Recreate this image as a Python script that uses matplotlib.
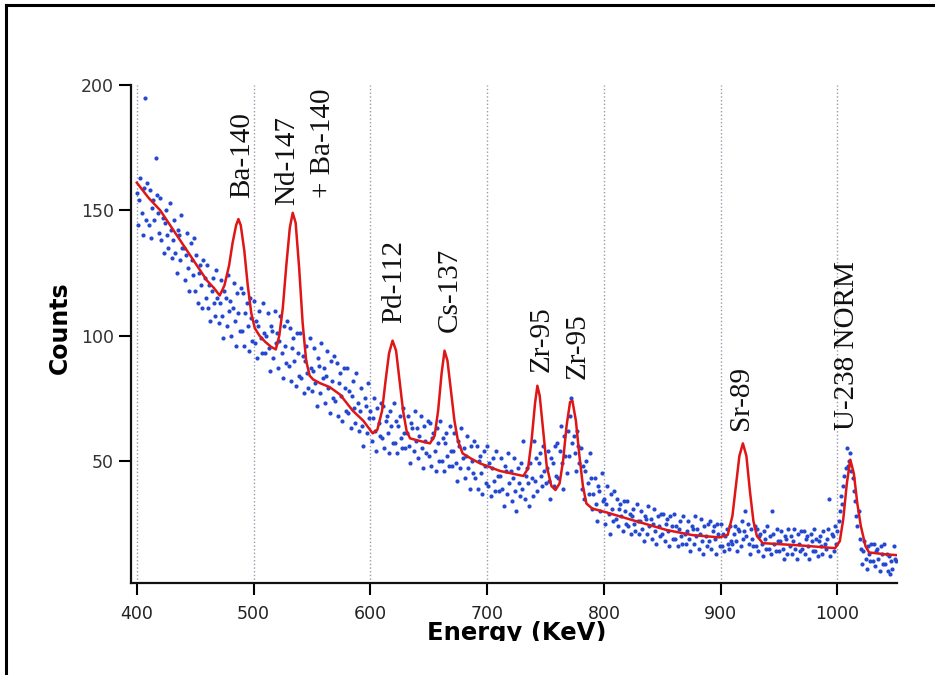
import matplotlib
matplotlib.use("Agg")
import matplotlib.pyplot as plt
import numpy as np
from matplotlib.lines import Line2D
from matplotlib.patches import Rectangle

# measured counts, one per keV channel starting at 400 keV
dots = [
    157, 144, 154, 163, 149, 140, 159, 195, 146, 161,
    144, 158, 139, 151, 154, 146, 171, 156, 149, 141,
    155, 138, 147, 133, 145, 150, 140, 135, 153, 142,
    131, 138, 146, 133, 125, 142, 140, 130, 148, 135,
    135, 122, 132, 141, 127, 118, 137, 130, 124, 139,
    118, 132, 113, 125, 128, 120, 111, 130, 123, 115,
    128, 111, 120, 106, 118, 123, 113, 108, 126, 115,
    105, 113, 122, 108, 99, 118, 115, 104, 124, 110,
    114, 100, 111, 121, 106, 96, 117, 109, 102, 119,
    102, 117, 96, 109, 113, 104, 94, 115, 107, 98,
    114, 97, 106, 91, 104, 110, 99, 93, 113, 101,
    93, 100, 109, 95, 86, 104, 102, 91, 110, 97,
    101, 87, 98, 108, 93, 83, 104, 96, 89, 106,
    88, 103, 82, 95, 99, 90, 80, 101, 93, 84,
    101, 83, 92, 77, 90, 96, 85, 79, 99, 87,
    78, 86, 95, 81, 72, 91, 88, 77, 97, 83,
    87, 73, 84, 94, 79, 69, 90, 82, 75, 92,
    74, 89, 68, 81, 85, 76, 66, 87, 79, 70,
    87, 69, 78, 63, 76, 82, 71, 65, 85, 73,
    62, 70, 79, 64, 56, 75, 72, 61, 81, 67,
    70, 58, 67, 75, 62, 54, 71, 65, 60, 73,
    59, 72, 55, 66, 68, 61, 53, 70, 64, 57,
    73, 57, 66, 53, 64, 68, 59, 55, 71, 61,
    55, 61, 68, 56, 49, 65, 63, 54, 70, 58,
    63, 51, 60, 68, 55, 47, 64, 58, 53, 66,
    52, 65, 48, 59, 61, 54, 46, 63, 57, 50,
    66, 50, 59, 46, 57, 61, 52, 48, 64, 54,
    48, 54, 61, 49, 42, 58, 56, 47, 63, 51,
    55, 43, 52, 60, 47, 39, 56, 50, 45, 58,
    43, 56, 39, 50, 52, 45, 37, 54, 48, 41,
    56, 40, 49, 36, 47, 51, 42, 38, 54, 44,
    38, 44, 51, 39, 32, 48, 46, 37, 53, 41,
    46, 34, 43, 51, 38, 30, 47, 41, 36, 49,
    39, 58, 35, 44, 47, 41, 32, 49, 43, 36,
    58, 42, 51, 38, 49, 53, 44, 40, 56, 46,
    41, 47, 54, 42, 35, 51, 49, 40, 56, 44,
    57, 43, 54, 64, 49, 39, 60, 52, 45, 62,
    52, 68, 75, 57, 60, 53, 46, 62, 56, 49,
    55, 39, 48, 35, 46, 50, 41, 37, 53, 43,
    31, 37, 43, 33, 26, 40, 38, 30, 45, 34,
    35, 25, 33, 40, 29, 21, 37, 31, 26, 38,
    27, 35, 24, 31, 33, 28, 22, 34, 30, 25,
    34, 24, 29, 21, 28, 31, 25, 22, 33, 26,
    21, 26, 30, 23, 18, 28, 27, 21, 32, 24,
    27, 19, 25, 31, 22, 17, 28, 24, 20, 29,
    21, 29, 18, 25, 27, 22, 16, 28, 24, 19,
    29, 19, 24, 16, 23, 26, 20, 17, 28, 21,
    17, 22, 26, 19, 14, 24, 23, 17, 28, 20,
    23, 15, 21, 27, 18, 13, 24, 20, 16, 25,
    18, 26, 15, 22, 24, 19, 13, 25, 21, 16,
    25, 16, 21, 14, 20, 23, 17, 15, 24, 18,
    17, 21, 24, 18, 14, 23, 22, 16, 26, 19,
    22, 30, 20, 25, 17, 13, 23, 19, 16, 24,
    16, 23, 14, 20, 21, 17, 12, 22, 19, 15,
    24, 15, 20, 13, 30, 21, 17, 14, 23, 18,
    14, 18, 22, 15, 11, 20, 19, 13, 23, 16,
    20, 13, 18, 23, 15, 11, 21, 17, 14, 22,
    15, 22, 13, 19, 20, 16, 11, 21, 18, 14,
    23, 14, 19, 12, 18, 20, 16, 13, 22, 17,
    15, 19, 23, 35, 12, 21, 20, 14, 24, 17,
    22, 26, 30, 36, 33, 40, 44, 47, 55, 48,
    50, 53, 46, 43, 38, 34, 28, 24, 30, 19,
    15, 9, 14, 18, 11, 7, 16, 13, 10, 17,
    10, 17, 8, 14, 15, 11, 6, 16, 13, 9,
    17, 9, 13, 6, 12, 5, 10, 7, 16, 11,
    10,
]
dot_energy = np.arange(400, 400 + len(dots))

# fitted spectrum (red line)
fit_energy = [400, 410, 420, 430, 440, 450, 460, 466, 471, 475, 479, 482, 485, 487, 489,
              492, 495, 498, 501, 505, 510, 515, 519, 522, 525, 528, 531, 533.5, 536,
              539, 542, 545, 548, 551, 557, 565, 574, 585, 594, 602, 606, 610, 613, 616,
              619, 622, 625, 628, 631, 634, 642, 651, 655, 658, 661, 663.5, 666, 669, 672,
              675, 679, 686, 694, 711, 731, 735, 738, 741, 743, 745, 748, 751, 755, 758.5,
              762, 765, 768, 771, 773, 776, 779, 782, 785, 790, 802, 825, 854, 876, 899,
              906, 910, 913, 916, 919, 922, 925, 928, 931, 936, 968, 998, 1002, 1005, 1008,
              1011, 1014, 1017, 1020, 1024, 1027, 1040, 1051]
fit_counts = [161, 155, 150, 143, 136, 129, 122, 119, 116, 120, 128, 137, 144, 146.5, 144,
              134, 120, 109, 103, 100, 97.5, 95.5, 94.5, 100, 111, 128, 143, 149, 145,
              127, 105, 90, 84, 82.5, 81, 79.5, 76.5, 70, 66, 61, 62.5, 70, 82, 93,
              98, 94, 82, 70, 62, 59, 58, 57, 60, 70, 85, 94, 90, 78, 66,
              58, 53, 51, 49, 46, 44, 47, 58, 73, 80, 76, 62, 48, 40, 38.4,
              41, 50, 64, 73.5, 74, 66, 52, 40, 33, 31, 29.5, 26.3, 22.4, 20.4, 19.5,
              20.5, 28, 40, 52, 57, 52, 38, 26, 20, 17.2, 16.3, 15.2, 18, 27, 41,
              50.5, 45, 33, 24, 16, 13.5, 12.8, 12.4]

peak_labels = ["Ba-140", "Nd-147", "+ Ba-140", "Pd-112", "Cs-137",
               "Zr-95", "Zr-95", "Sr-89", "U-238 NORM"]
peak_x = [490, 529, 559, 620, 668, 746.5, 777.5, 917, 1008]
peak_y = [155, 152, 155, 105, 101.5, 85.5, 82.5, 62.5, 62.5]

x_ticks = [400, 500, 600, 700, 800, 900, 1000]
y_ticks = [50, 100, 150, 200]

fig = plt.figure(figsize=(9.35, 6.75), dpi=100)
ax = fig.add_axes([0.1401, 0.1363, 0.8193, 0.7378])

for xt in x_ticks:
    ax.axvline(xt, color="#9a9aac", linestyle=":", linewidth=1, zorder=0)

ax.plot(dot_energy, dots, "o", color="#2448d0", markersize=3, markeredgewidth=0, zorder=2)
ax.plot(fit_energy, fit_counts, color="#e01515", linewidth=1.8, zorder=3)

for lab, px, py in zip(peak_labels, peak_x, peak_y):
    ax.text(px, py, lab, rotation=90, ha="center", va="bottom",
            family="Liberation Serif", fontsize=21, color="#111111")

ax.set_xlim(395, 1051)
ax.set_ylim(1.3, 200)
ax.set_xticks(x_ticks)
ax.set_yticks(y_ticks)
ax.set_xticklabels([str(t) for t in x_ticks], family="DejaVu Sans",
                   fontsize=12.5, color="#222222")
ax.set_yticklabels([str(t) for t in y_ticks], family="DejaVu Sans", fontsize=12.5, color="#333333")
ax.tick_params(axis="x", length=8.5, width=1.5, pad=7, direction="out")
ax.tick_params(axis="y", length=8.5, width=1.5, pad=4, direction="out")

for side in ["top", "right"]:
    ax.spines[side].set_visible(False)
for side in ["left", "bottom"]:
    ax.spines[side].set_linewidth(1.6)
    ax.spines[side].set_color("#111111")

fig.text(0.0642, 0.514, "Counts", rotation=90, ha="center", va="center",
         family="DejaVu Sans", fontweight="bold", fontsize=17)
fig.text(0.5524, 1 - 640 / 675, "Energy (KeV)", ha="center", va="baseline",
         family="DejaVu Sans", fontweight="bold", fontsize=17.5)
# the label is cut off at the baseline in the original
fig.add_artist(Rectangle((0.3, 0), 0.5, 1 - 641 / 675, transform=fig.transFigure,
                         facecolor="white", edgecolor="none", zorder=10))

# frame at top and left edge
fig.add_artist(Line2D([0.0059, 1.0], [0.9919, 0.9919], transform=fig.transFigure,
                      color="black", linewidth=2.2))
fig.add_artist(Line2D([0.0059, 0.0059], [0.0, 0.9919], transform=fig.transFigure,
                      color="black", linewidth=2.2))

fig.savefig("out.png", dpi=100)
